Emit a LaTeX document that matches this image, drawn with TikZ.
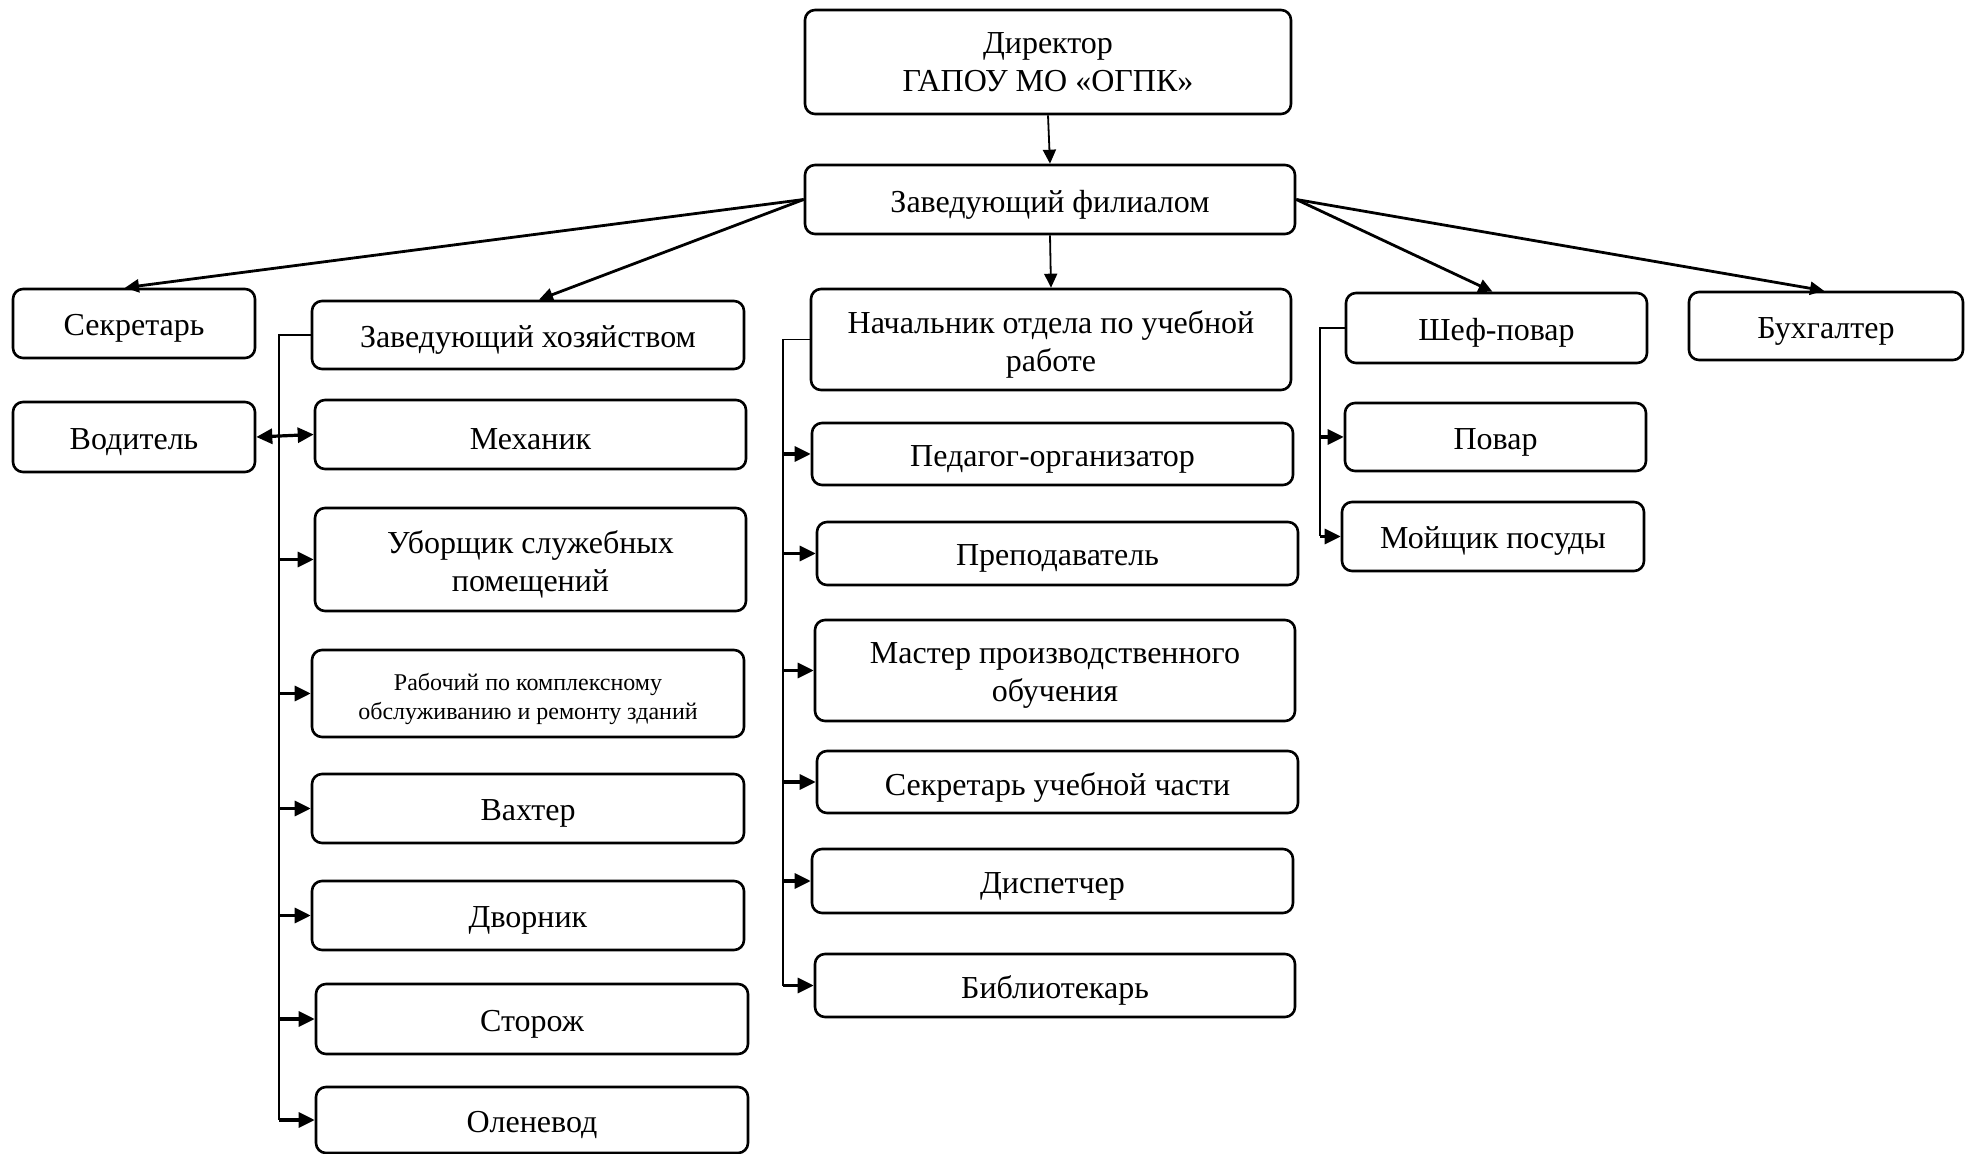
\documentclass[tikz,border=0pt]{standalone}
\usepackage{fontspec}
\setmainfont{Liberation Serif}
\usetikzlibrary{arrows.meta}
\begin{document}
\begin{tikzpicture}[x=0.5pt,y=-0.5pt,
  box/.style={draw, line width=1.3pt, rounded corners=5pt, inner sep=0pt},
  txt/.style={align=center, inner sep=0pt, yshift=-2.5pt, font=\fontsize{16}{19}\selectfont},
  smalltxt/.style={txt, font=\fontsize{12}{14.5}\selectfont},
  arr/.style={line width=1.4pt, -{Triangle[length=7pt,width=6.5pt]}},
  barr/.style={line width=1.6pt, -{Triangle[length=8pt,width=7.5pt]}},
  darr/.style={line width=1.6pt, {Triangle[length=8pt,width=7.5pt]}-{Triangle[length=8pt,width=7.5pt]}},
  thinarr/.style={line width=0.9pt, -{Triangle[length=7pt,width=6.5pt]}},
  thinl/.style={line width=0.7pt}]
\useasboundingbox (0,0) rectangle (1966,1154);

% top
\node[box, minimum width=243pt, minimum height=52pt, label={[txt, yshift=2.5pt]center:{Директор\\ГАПОУ МО «ОГПК»}}] (dir) at (1048,62) {};
\node[box, minimum width=245pt, minimum height=34.5pt, label={[txt]center:{Заведующий филиалом}}] (fil) at (1050,199.5) {};

% second row
\node[box, minimum width=121pt, minimum height=34.5pt, label={[txt]center:{Секретарь}}] (sec) at (134,323.5) {};
\node[box, minimum width=216pt, minimum height=34pt, label={[txt]center:{Заведующий хозяйством}}] (hoz) at (528,335) {};
\node[box, minimum width=240pt, minimum height=50.5pt, label={[txt]center:{Начальник отдела по учебной\\работе}}] (nach) at (1051,339.5) {};
\node[box, minimum width=150.5pt, minimum height=35pt, label={[txt]center:{Шеф-повар}}] (shef) at (1496.5,328) {};
\node[box, minimum width=137pt, minimum height=34pt, label={[txt]center:{Бухгалтер}}] (buh) at (1826,326) {};

% left column
\node[box, minimum width=121pt, minimum height=35pt, label={[txt]center:{Водитель}}] (vod) at (134,437) {};
\node[box, minimum width=215.5pt, minimum height=34.5pt, label={[txt]center:{Механик}}] (meh) at (530.5,434.5) {};
\node[box, minimum width=215.5pt, minimum height=51.5pt, label={[txt]center:{Уборщик служебных\\помещений}}] (ubor) at (530.5,559.5) {};
\node[box, minimum width=216pt, minimum height=43.5pt, label={[smalltxt]center:{Рабочий по комплексному\\обслуживанию и ремонту зданий}}] (rab) at (528,693.5) {};
\node[box, minimum width=216pt, minimum height=34.5pt, label={[txt]center:{Вахтер}}] (vah) at (528,808.5) {};
\node[box, minimum width=216pt, minimum height=34.5pt, label={[txt]center:{Дворник}}] (dvor) at (528,915.5) {};
\node[box, minimum width=216pt, minimum height=35pt, label={[txt]center:{Сторож}}] (stor) at (532,1019) {};
\node[box, minimum width=216pt, minimum height=33pt, label={[txt]center:{Оленевод}}] (olen) at (532,1120) {};

% middle column
\node[box, minimum width=240.5pt, minimum height=31pt, label={[txt]center:{Педагог-организатор}}] (ped) at (1052.5,454) {};
\node[box, minimum width=240.5pt, minimum height=31.5pt, label={[txt]center:{Преподаватель}}] (prep) at (1057.5,553.5) {};
\node[box, minimum width=240pt, minimum height=50.5pt, label={[txt]center:{Мастер производственного\\обучения}}] (mast) at (1055,670.5) {};
\node[box, minimum width=240.5pt, minimum height=31pt, label={[txt]center:{Секретарь учебной части}}] (seku) at (1057.5,782) {};
\node[box, minimum width=240.5pt, minimum height=32pt, label={[txt]center:{Диспетчер}}] (disp) at (1052.5,881) {};
\node[box, minimum width=240pt, minimum height=31.5pt, label={[txt]center:{Библиотекарь}}] (bibl) at (1055,985.5) {};

% right column
\node[box, minimum width=150.5pt, minimum height=34pt, label={[txt]center:{Повар}}] (povar) at (1495.5,437) {};
\node[box, minimum width=151pt, minimum height=34.5pt, label={[txt]center:{Мойщик посуды}}] (moy) at (1493,536.5) {};

% top connectors
\draw[thinarr] (dir.south) -- (fil.north);
\draw[thinarr] (fil.south) -- (nach.north);
\draw[arr] (fil.west) -- ([xshift=-4.5pt]sec.north);
\draw[arr] (fil.west) -- ([xshift=5.5pt]hoz.north);
\draw[arr] (fil.east) -- ([xshift=-2pt]shef.north);
\draw[arr] (fil.east) -- ([xshift=-1pt]buh.north);

% left bracket
\coordinate (hx) at (279,0);
\draw[thinl] (hoz.west) -| (hx |- olen.west);
\draw[darr] (vod.east) -- (meh.west);
\foreach \n in {ubor,rab,vah,dvor,stor,olen}
  \draw[barr] (hx |- \n.west) -- (\n.west);

% middle bracket
\coordinate (nx) at (783,0);
\draw[thinl] (nach.west) -| (nx |- bibl.west);
\foreach \n in {ped,prep,mast,seku,disp,bibl}
  \draw[barr] (nx |- \n.west) -- (\n.west);

% right bracket
\coordinate (sx) at (1320,0);
\draw[thinl] (shef.west) -| (sx |- moy.west);
\foreach \n in {povar,moy}
  \draw[barr] (sx |- \n.west) -- (\n.west);
\end{tikzpicture}
\end{document}
